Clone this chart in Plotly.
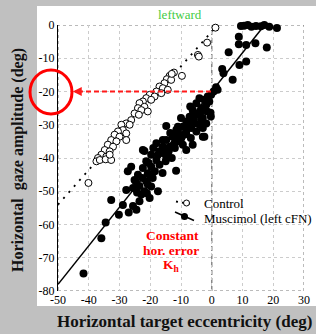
import plotly.graph_objects as go

# ---------------- data ----------------
ctrl_x = [1.2, -1.5, -4.5, -4.2, -9.7, -12.3, -13.7, -14.6, -13.2, -15.4, -17, -15.9, -14.3, -18, -16.4,
          -20.2, -18.6, -21.3, -19.7, -22.4, -23.5, -21.9, -24, -22.9, -20.8, -25.1, -23.7, -26.2, -27.8,
          -26.7, -29.4, -28.9, -30.5, -27.8, -31.6, -30, -32.7, -31, -27.8, -33.8, -32.1, -34.8, -33.2,
          -35.9, -34.3, -37, -37.5, -36.4, -34.5, -32.7, -33.2, -40.1, -13]
ctrl_y = [-0.8, -5.3, -9, -9.5, -15.3, -14.3, -15.3, -16.3, -16.5, -17.5, -18.5, -19, -19.5, -20, -20.5,
          -21, -21.5, -22, -22.5, -23, -23.5, -24.6, -25, -25.6, -26, -26.6, -27, -28.6, -29.6,
          -30, -30, -31.6, -32, -32.6, -33, -33.6, -34.6, -35, -34.6, -36, -36.6, -37.6, -38,
          -39, -39.6, -40, -41, -40.6, -40.4, -40.6, -39, -47.5, -14.7]

musc_x = [9.5, 11.7, 14.4, 17.1, 18.7, 21.2, 12.9, 10.5, 16,
          8.8, 8.8, 11.2, 17.9, 5.5, 14.2, 9, 11.2, 3.4, 3.8, 6.8, 1.4, 1.9, 0.6, -0.2, -1.3, -2.4, -4,
          -5, -1.8, -3.4, -6.2, -0.4, -4.5, -7.2, -2.9, -8.3, -5.6, -9.4, -6.7, -2.9, -11, -8.3, -5,
          -2.9, -12.7, -9.9, -14.8, -12.1, -15.9, -9.4,
          -6.2, -1.8, -14.8, -11, -8.3, -12.7, -2.4, -15.9, -10.5, -18, -6.2, -13.7, -21.9, -17, -8.3,
          -19.7, -14.8, -18, -21.3, -17, -19.7, -11.6, -22.4, -20.8, -24, -19.2, -27.3, -25.1, -21.3,
          -23.5, -19.7, -25.6, -21.9, -17.5, -27.8, -20.2, -23.5,
          -24.7, -20.8, -24.3, -22.9, -21.1, -32.7, -28.9, -25.6, -24.5, -30.2, -27, -34.5, -35.9, -41.7,
          -22.4, -26.2, -2.7,
          -7, -3.8, -6, -10, -4, -7.5, -11.5, -13.5, -10.5, -6.8, -12, -16, -19, -15, -13, -18.5, -16,
          -22.5, -20, -0.8, -0.3, -1.5, -3.5, -9, -11, -14, -17.5, -20.5]
musc_y = [-0.3, 0, -0.3, 0, -0.5, -0.9, -0.5, -0.2, -0.4,
          -3.5, -5.8, -6, -6.8, -8.2, -5.5, -12, -11, -13.2, -14.5, -16.5, -18.7, -19.5, -20, -21, -21.5,
          -22.5, -22, -23.5, -24, -25, -25.6, -26.4, -27, -27.6, -28, -29, -29.6, -30.6, -31, -31, -32,
          -32.6, -32, -33.6, -33.6, -34, -34.6, -35.6, -36.6, -36,
          -27, -29.6, -30.4, -30.6, -31.6, -33, -33.6, -34.6, -35, -35.6, -36, -36.6, -37.9, -38, -37.6,
          -39, -39.6, -40.6, -41, -42, -42.6, -43.8, -43, -44.6, -45, -46, -44, -46.6, -47,
          -48.4, -48.6, -49, -50, -50, -49.6, -52, -53,
          -47, -48, -50.4, -51, -50.6, -52.6, -54.1, -54.4, -55.6, -57.1, -56.4, -59.4, -64.1, -74.7,
          -37.6, -42.6, -25,
          -24.5, -26.5, -28.5, -28, -30, -30, -31.5, -32.5, -33.5, -34, -37, -38.5, -37, -41, -40, -44,
          -44.5, -46, -45.5, -23, -27.5, -26, -28.5, -33, -34.5, -38, -39, -41.5]

# fitted lines (endpoints)
ctrl_line_x = [-50, 2]
ctrl_line_y = [-54, 0.1]
musc_line_x = [-50, 17.2]
musc_line_y = [-78, 0]

x_ticks = [-50, -40, -30, -20, -10, 0, 10, 20, 30]
y_ticks = [-80, -70, -60, -50, -40, -30, -20, -10, 0]

legend_labels = ["Control", "Muscimol (left cFN)"]

# ---------------- figure ----------------
SERIF = "Liberation Serif, Times New Roman, serif"
W, H = 316, 334
ML, MR, MT, MB = 58, 12, 25, 43
PW, PH = W - ML - MR, H - MT - MB


def px(xp):
    return (xp - ML) / PW


def py(yp):
    return (H - MB - yp) / PH


fig = go.Figure()

fig.add_trace(go.Scatter(x=ctrl_line_x, y=ctrl_line_y, mode="lines",
                         line=dict(color="black", width=1.8, dash="2px,6px"),
                         showlegend=False, hoverinfo="skip"))
fig.add_trace(go.Scatter(x=musc_line_x, y=musc_line_y, mode="lines",
                         line=dict(color="black", width=1.5),
                         showlegend=False, hoverinfo="skip"))
fig.add_trace(go.Scatter(x=ctrl_x, y=ctrl_y, mode="markers", cliponaxis=False,
                         marker=dict(symbol="circle", size=7, color="white",
                                     line=dict(color="black", width=1)),
                         showlegend=False))
fig.add_trace(go.Scatter(x=musc_x, y=musc_y, mode="markers", cliponaxis=False,
                         marker=dict(symbol="circle", size=8, color="black",
                                     line=dict(color="black", width=0)),
                         showlegend=False))

shapes = [
    # white panel
    dict(type="rect", xref="paper", yref="paper", x0=px(37), x1=px(318), y0=py(306), y1=py(6),
         fillcolor="white", line=dict(width=0), layer="below"),
    # dotted frame
    dict(type="rect", xref="x", yref="y", x0=-50, x1=30, y0=-80, y1=0,
         line=dict(color="#777777", width=1, dash="dot"), layer="below"),
    # vertical dashed zero line
    dict(type="line", xref="x", yref="y", x0=0, x1=0, y0=-80, y1=0,
         line=dict(color="#888888", width=1.5, dash="5px,3px"), layer="below"),
    # red dashed arrow line
    dict(type="line", xref="x", yref="y", x0=-43.5, x1=0, y0=-20, y1=-20,
         line=dict(color="#ff1a1a", width=1.8, dash="5px,3px")),
    # red circle
    dict(type="circle", xref="paper", yref="paper", x0=px(30), x1=px(72), y0=py(114), y1=py(70),
         line=dict(color="#ff0000", width=3)),
    # legend glyphs: control (dotted line + open circle)
    dict(type="line", xref="paper", yref="paper", x0=px(176), x1=px(193), y0=py(201.5), y1=py(204.5),
         line=dict(color="black", width=1.8, dash="2px,4px")),
    dict(type="circle", xref="paper", yref="paper", x0=px(183.5), x1=px(189.5), y0=py(206), y1=py(200),
         fillcolor="white", line=dict(color="black", width=1)),
    # legend glyphs: muscimol (solid line + filled dot)
    dict(type="line", xref="paper", yref="paper", x0=px(175), x1=px(194), y0=py(212), y1=py(220.5),
         line=dict(color="black", width=1.6)),
    dict(type="circle", xref="paper", yref="paper", x0=px(181), x1=px(188), y0=py(220), y1=py(213),
         fillcolor="black", line=dict(color="black", width=0)),
]


def note(xp, yp, text, size, color, xanchor="center", angle=0):
    return dict(x=px(xp), y=py(yp), xref="paper", yref="paper", showarrow=False, text=text,
                xanchor=xanchor, yanchor="middle", textangle=angle,
                font=dict(family=SERIF, size=size, color=color))


annotations = [
    dict(x=-45.2, y=-20, ax=-42, ay=-20, xref="x", yref="y", axref="x", ayref="y",
         showarrow=True, arrowhead=2, arrowsize=1, arrowwidth=1.8, arrowcolor="#ff1a1a", text=" "),
    note(180, 14, "leftward", 13, "#44cc44"),
    note(172, 235, "<b>Constant</b>", 13.5, "#ff0000"),
    note(171, 250.5, "<b>hor. error</b>", 13.5, "#ff0000"),
    note(171, 265, "<b>K<sub>h</sub></b>", 13.5, "#ff0000"),
    note(202, 204, legend_labels[0], 13, "black", xanchor="left"),
    note(202, 218, legend_labels[1], 13, "black", xanchor="left"),
    note(18, 160, "<b>Horizontal  gaze amplitude (deg)</b>", 16, "#111111", angle=-90),
    note(184, 321, "<b>Horizontal target eccentricity (deg)</b>", 17, "#111111"),
]

fig.update_layout(
    width=W, height=H,
    margin=dict(l=ML, r=MR, t=MT, b=MB, pad=0, autoexpand=False),
    paper_bgcolor="#c0c0c0",
    plot_bgcolor="rgba(0,0,0,0)",
    shapes=shapes,
    annotations=annotations,
    showlegend=False,
    font=dict(family=SERIF, size=12, color="black"),
)
fig.update_xaxes(range=[-50, 30], tickvals=x_ticks, ticktext=[str(v) for v in x_ticks],
                 showgrid=True, gridcolor="#cccccc", griddash="dot", gridwidth=1,
                 zeroline=False, showline=False, ticks="", automargin=False,
                 tickfont=dict(family=SERIF, size=12, color="black"))
fig.update_yaxes(range=[-80, 0], tickvals=y_ticks, ticktext=[str(v) for v in y_ticks],
                 showgrid=True, gridcolor="#cccccc", griddash="dot", gridwidth=1,
                 zeroline=False, showline=True, linecolor="black", linewidth=1, ticks="",
                 automargin=False,
                 tickfont=dict(family=SERIF, size=12, color="black"))

fig.write_html("out.html", config={"displayModeBar": False},
               post_script="document.body.style.margin='0';document.body.style.overflow='hidden';")
